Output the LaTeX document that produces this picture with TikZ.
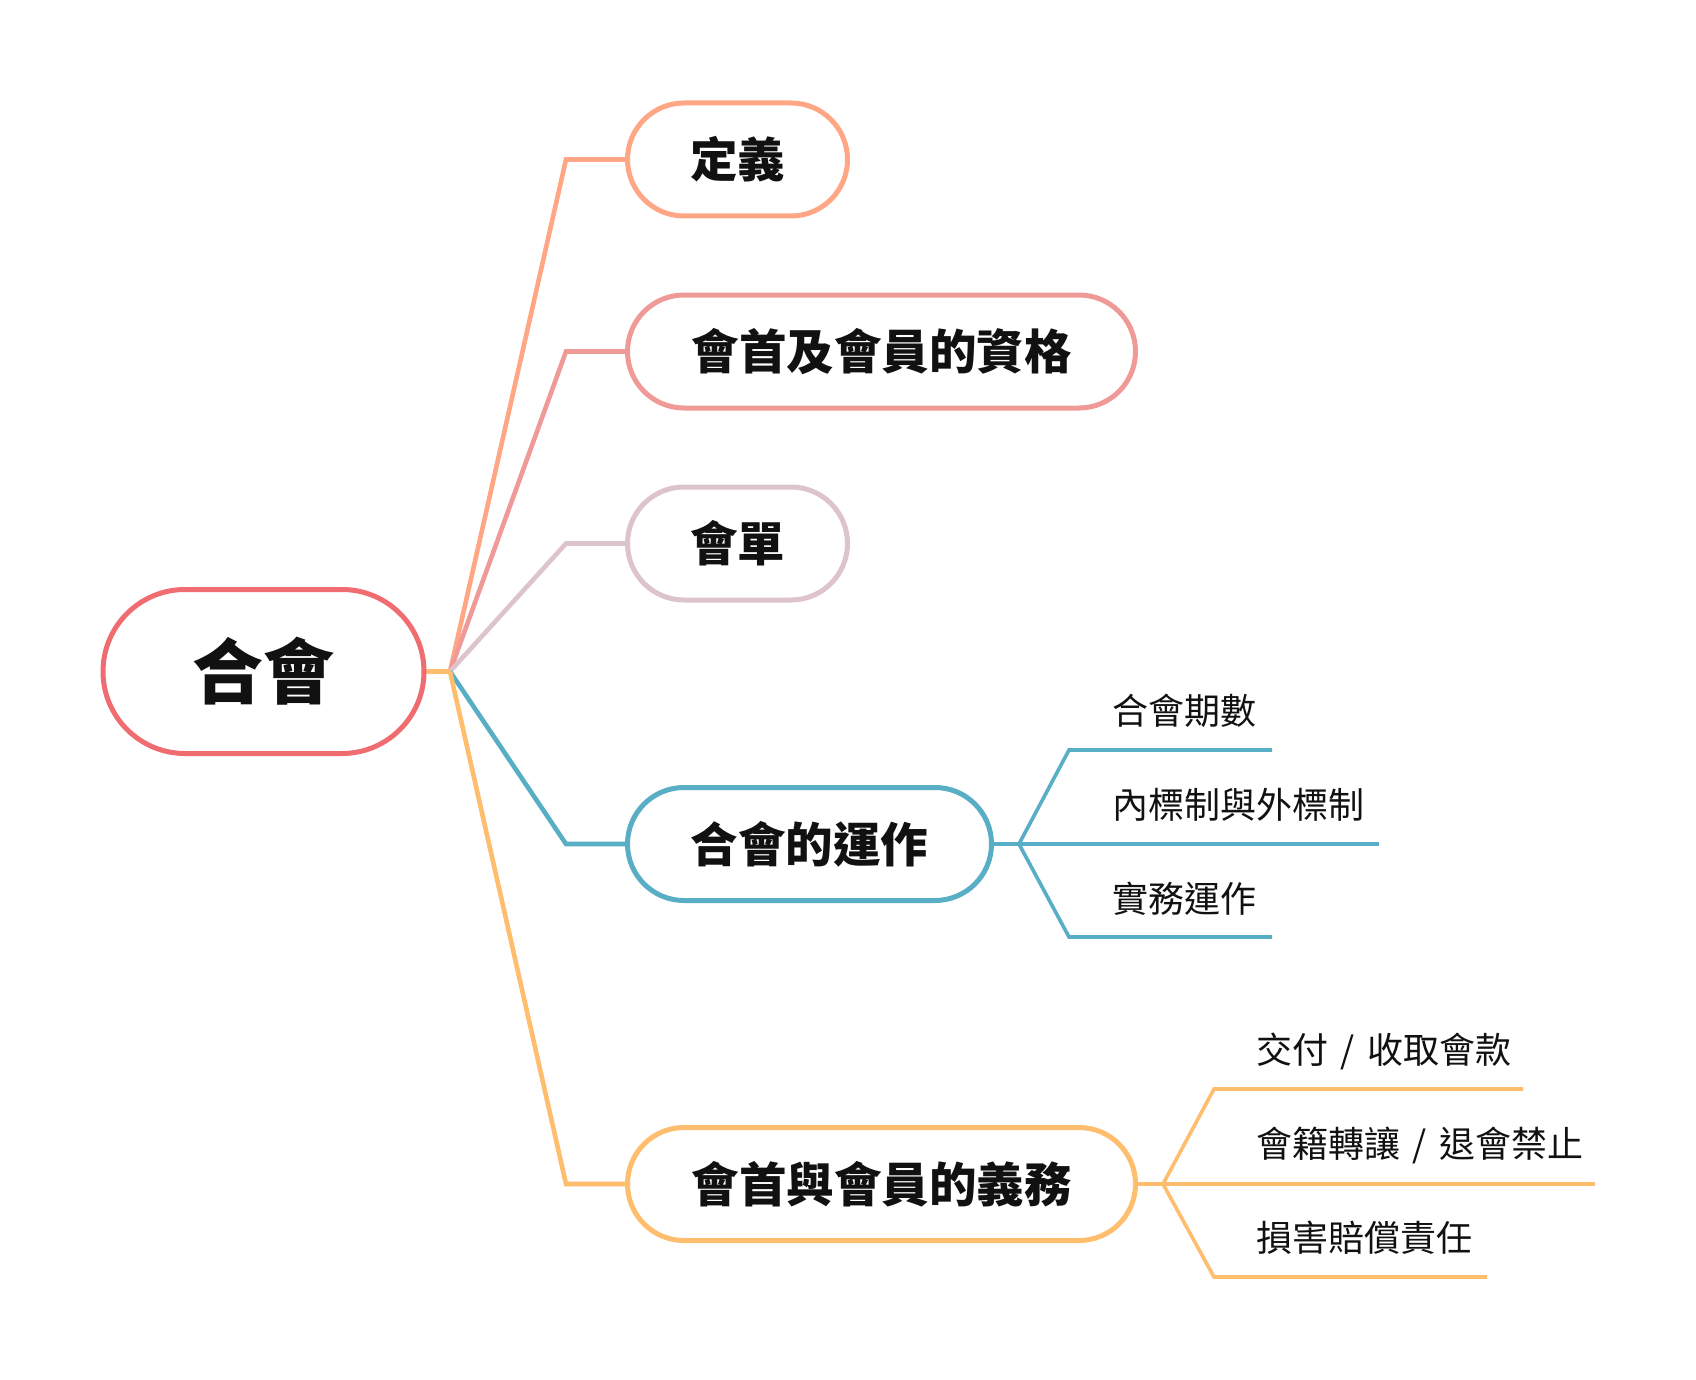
\documentclass[tikz,border=0pt]{standalone}
\usepackage{fontspec}
\setmainfont{Noto Sans CJK TC}
\usetikzlibrary{calc}
\definecolor{cRoot}{HTML}{EF6D70}
\definecolor{cA}{HTML}{FFA784}
\definecolor{cB}{HTML}{F09A98}
\definecolor{cC}{HTML}{DCC4CA}
\definecolor{cD}{HTML}{58AEC4}
\definecolor{cE}{HTML}{FFBD6E}
\definecolor{txt}{HTML}{111111}
\tikzset{
  pill/.style={draw, line width=5pt, fill=white, text=txt, inner sep=0pt, align=center},
  rootbox/.style={pill, draw=cRoot, minimum width=321pt, minimum height=164pt, rounded corners=82pt, font=\fontsize{71}{80}\selectfont\bfseries},
  childbox/.style={pill, minimum height=113pt, rounded corners=56.5pt, font=\fontsize{47.5}{56}\selectfont\bfseries},
  link/.style={line width=4.6pt, line join=miter},
  sublink/.style={line width=3.6pt},
  leaf/.style={anchor=west, text=txt, inner sep=0pt, font=\fontsize{36}{42}\selectfont}
}
\begin{document}
\begin{tikzpicture}[x=1pt,y=-1pt]
\useasboundingbox (0,0) rectangle (1696,1380);
\fill[white] (0,0) rectangle (1696,1380);

% junction coordinates
\coordinate (j) at (450,671.5);
\coordinate (j4) at (1019,844);
\coordinate (j5) at (1163,1184);

% main branches
\draw[link, cA] (j) -- (566,159.5) -- (627,159.5);
\draw[link, cB] (j) -- (566,351.5) -- (627,351.5);
\draw[link, cC] (j) -- (566,543.5) -- (627,543.5);
\draw[link, cD] (j) -- (566,844) -- (627,844);
\draw[link, cE] (j) -- (566,1184) -- (627,1184);
\draw[link, cE] (424,671.5) -- (j);

% nodes
\node[rootbox] (root) at (263.5,671.5) {合會};
\node[childbox, draw=cA, minimum width=220pt] (n1) at (737.5,159.5) {定義};
\node[childbox, draw=cB, minimum width=508pt] (n2) at (881.5,351.5) {會首及會員的資格};
\node[childbox, draw=cC, minimum width=220pt] (n3) at (737.5,543.5) {會單};
\node[childbox, draw=cD, minimum width=364pt] (n4) at (809.5,844) {合會的運作};
\node[childbox, draw=cE, minimum width=508pt] (n5) at (881.5,1184) {會首與會員的義務};

% leaves of 合會的運作
\node[leaf] (l41) at (1112,711) {合會期數};
\node[leaf] (l42) at (1112,805) {內標制與外標制};
\node[leaf] (l43) at (1112,899) {實務運作};
\coordinate (e41) at (1069,750);
\coordinate (e43) at (1069,937);
\draw[sublink, cD] (n4.east) -- (j4);
\draw[sublink, cD] (j4) -- (e41) -- (1272,750);
\draw[sublink, cD] (j4) -- (1379,844);
\draw[sublink, cD] (j4) -- (e43) -- (1272,937);

% leaves of 會首與會員的義務
\node[leaf] (l51) at (1256,1051) {交付\hspace{0.35em}/\hspace{0.35em}收取會款};
\node[leaf] (l52) at (1256,1145) {會籍轉讓\hspace{0.35em}/\hspace{0.35em}退會禁止};
\node[leaf] (l53) at (1256,1238) {損害賠償責任};
\coordinate (e51) at (1214,1089);
\coordinate (e53) at (1214,1277);
\draw[sublink, cE] (n5.east) -- (j5);
\draw[sublink, cE] (j5) -- (e51) -- (1523,1089);
\draw[sublink, cE] (j5) -- (1595,1184);
\draw[sublink, cE] (j5) -- (e53) -- (1487,1277);
\end{tikzpicture}
\end{document}
